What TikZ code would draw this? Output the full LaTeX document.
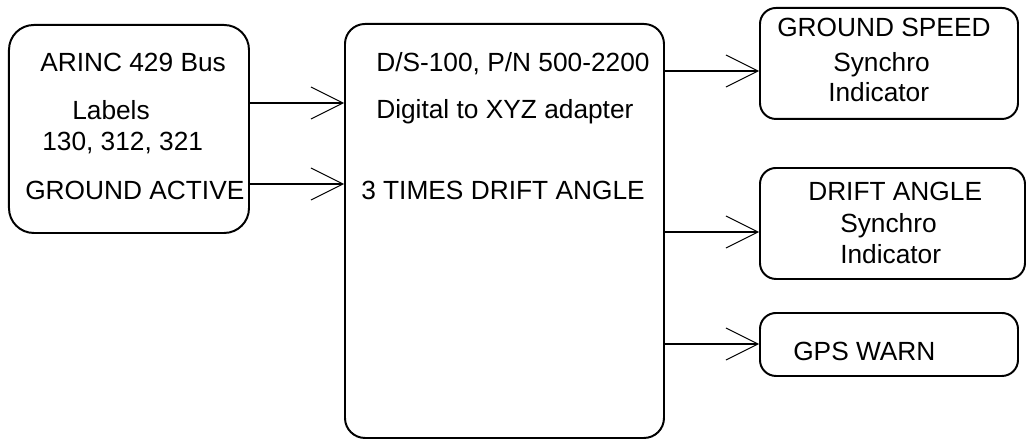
\documentclass[tikz,border=0pt]{standalone}
\usepackage{fontspec}
\setmainfont{Liberation Sans}
\usetikzlibrary{arrows.meta}

\tikzset{
	box/.style={draw, line width=1.4pt, rounded corners=#1, inner sep=0pt, anchor=north west},
	txt/.style={anchor=base west, inner sep=0pt, font=\fontsize{18.7}{22}\selectfont},
	feed/.style={line width=1.4pt, -{Straight Barb[length=0.8cm, width=0.8cm, line width=0.7pt]}}
}

\begin{document}
\begin{tikzpicture}
		%%%%% START %%%%%
		\useasboundingbox (0, 0) rectangle (25.65, -11);
		
		% boxes
		\node[box=0.62cm, minimum width=6cm, minimum height=5.2cm] (bus) at (0.2, -0.6) {};
		\node[box=0.5cm, minimum width=7.975cm, minimum height=10.35cm] (adapter) at (8.6, -0.575) {};
		\node[box=0.4cm, minimum width=6.45cm, minimum height=2.775cm] (speed) at (18.975, -0.175) {};
		\node[box=0.4cm, minimum width=6.625cm, minimum height=2.775cm] (drift) at (18.975, -4.175) {};
		\node[box=0.4cm, minimum width=6.45cm, minimum height=1.575cm] (warn) at (18.975, -7.8) {};
		
		% texts
		\node[txt] (arinc) at (1.0, -1.8) {ARINC 429 Bus};
		\node[txt] (labels) at (1.8, -3.0) {Labels};
		\node[txt] (codes) at (1.05, -3.75) {130, 312, 321};
		\node[txt] (gndact) at (0.625, -4.975) {GROUND ACTIVE};
		
		\node[txt] (partno) at (9.4, -1.8) {D/S-100, P/N 500-2200};
		\node[txt] (digital) at (9.4, -2.975) {Digital to XYZ adapter};
		\node[txt] (times) at (9.025, -4.975) {3 TIMES DRIFT ANGLE};
		
		\node[txt] (gs) at (19.425, -0.925) {GROUND SPEED};
		\node[txt] (gssyn) at (20.825, -1.8) {Synchro};
		\node[txt] (gsind) at (20.7, -2.55) {Indicator};
		
		\node[txt] (da) at (20.2, -5.0) {DRIFT ANGLE};
		\node[txt] (dasyn) at (21.0, -5.8) {Synchro};
		\node[txt] (daind) at (21.0, -6.575) {Indicator};
		
		\node[txt] (gps) at (19.825, -9.0) {GPS WARN};
		
		% connectors
		\coordinate (in1) at (0, -2.575);
		\coordinate (in2) at (0, -4.6);
		\coordinate (out1) at (0, -1.775);
		\coordinate (out2) at (0, -5.8);
		\coordinate (out3) at (0, -8.6);
		
		\draw[feed] (bus.east |- in1) -- (adapter.west |- in1);
		\draw[feed] (bus.east |- in2) -- (adapter.west |- in2);
		\draw[feed] (adapter.east |- out1) -- (speed.west |- out1);
		\draw[feed] (adapter.east |- out2) -- (drift.west |- out2);
		\draw[feed] (adapter.east |- out3) -- (warn.west |- out3);
		%%%%% END %%%%%
\end{tikzpicture}
\end{document}
